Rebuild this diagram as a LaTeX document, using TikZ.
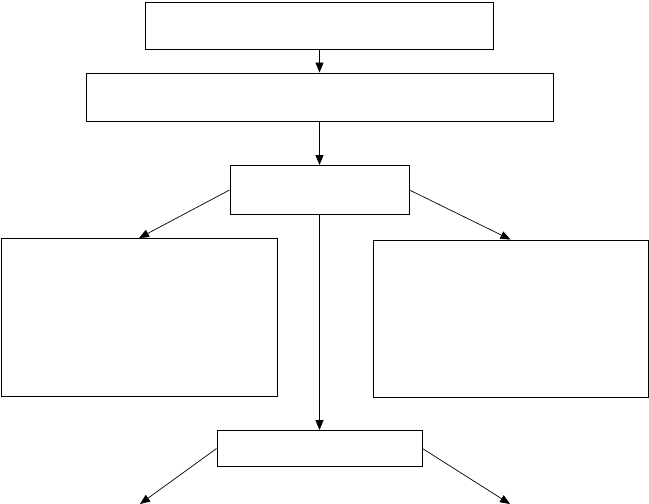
\documentclass[tikz,border=0pt]{standalone}
\usetikzlibrary{arrows.meta}
\begin{document}
\begin{tikzpicture}[x=1pt, y=-1pt,
  blk/.style={draw=black, line width=0.9pt, inner sep=0pt},
  conn/.style={draw=black, line width=0.7pt, -{Triangle[width=8pt,length=10pt]}}]
\useasboundingbox (0,0) rectangle (649,504);
\node[blk, minimum width=348pt, minimum height=47pt] (top) at (319.5,25.5) {};
\node[blk, minimum width=467pt, minimum height=48pt] (mid) at (319.5,97) {};
\node[blk, minimum width=179pt, minimum height=49pt] (hub) at (319.5,190) {};
\node[blk, minimum width=276pt, minimum height=158pt] (lft) at (139,317.5) {};
\node[blk, minimum width=275pt, minimum height=157pt] (rgt) at (510.5,318.5) {};
\node[blk, minimum width=205pt, minimum height=36pt] (low) at (319.5,448.5) {};
\coordinate (lowl) at (140,504);
\coordinate (lowr) at (510,504);
\draw[conn] (top.south) -- (mid.north);
\draw[conn] (mid.south) -- (hub.north);
\draw[conn] (hub.west) -- (lft.north);
\draw[conn] (hub.east) -- (rgt.north);
\draw[conn] (hub.south) -- (low.north);
\draw[conn] (low.west) -- (lowl);
\draw[conn] (low.east) -- (lowr);
\end{tikzpicture}
\end{document}
